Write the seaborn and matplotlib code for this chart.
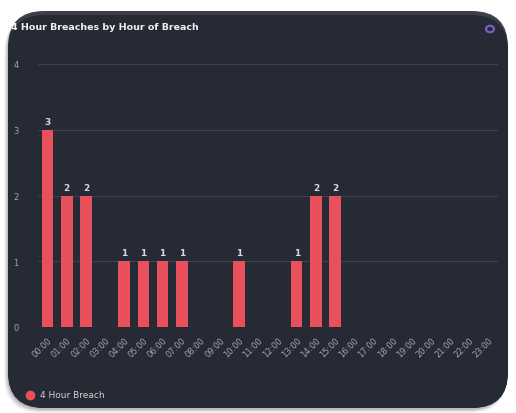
import matplotlib
matplotlib.use("Agg")
import matplotlib.pyplot as plt
import seaborn as sns
import pandas as pd
from matplotlib.patches import FancyBboxPatch, Circle
from matplotlib.lines import Line2D

hours = [f"{h:02d}:00" for h in range(24)]
breaches = [3, 2, 2, 0, 1, 1, 1, 1, 0, 0, 1, 0, 0, 1, 2, 2, 0, 0, 0, 0, 0, 0, 0, 0]
yticks = [0, 1, 2, 3, 4]
title = "4 Hour Breaches by Hour of Breach"
series_name = "4 Hour Breach"

sns.set_theme(style="dark")
plt.rcParams["font.family"] = ["DejaVu Sans"]

W, H = 516, 414
fig = plt.figure(figsize=(W / 100, H / 100), dpi=100)
fig.patch.set_facecolor("white")

panel_bg = "#262a35"
# shadow
for i, a in enumerate([0.04, 0.06, 0.08, 0.10]):
    off = 4 - i
    sh = FancyBboxPatch(((8 - off) / W, (4 - off) / H), (498 + off) / W, 396 / H,
                        boxstyle="round,pad=0,rounding_size=0.07",
                        transform=fig.transFigure, facecolor="black", alpha=a,
                        edgecolor="none", zorder=0, mutation_aspect=W / H)
    fig.add_artist(sh)
top = FancyBboxPatch((8 / W, 5 / H), 500 / W, 397 / H,
                     boxstyle="round,pad=0,rounding_size=0.07",
                     transform=fig.transFigure, facecolor="#3b404c",
                     edgecolor="none", zorder=1, mutation_aspect=W / H)
fig.add_artist(top)
panel = FancyBboxPatch((8 / W, 5 / H), 500 / W, 393 / H,
                       boxstyle="round,pad=0,rounding_size=0.07",
                       transform=fig.transFigure, facecolor=panel_bg,
                       edgecolor="none", zorder=1, mutation_aspect=W / H)
fig.add_artist(panel)

ax = fig.add_axes([38 / W, (H - 328) / H, (498 - 38) / W, (328 - 65) / H])
ax.set_facecolor("none")
ax.set_zorder(2)

df = pd.DataFrame({"hour": hours, "count": breaches})
sns.barplot(data=df, x="hour", y="count", color="#e8505b", width=0.6,
            saturation=1, linewidth=0, ax=ax, zorder=3)

for i, v in enumerate(breaches):
    if v > 0:
        ax.text(i, v + 0.06, str(v), ha="center", va="bottom", color="#d8d8d8",
                fontsize=6.5, fontweight="bold", zorder=4)

ax.set_ylim(0, 4)
ax.set_xlim(-0.5, 23.5)
ax.set_yticks(yticks)
ax.set_yticklabels([str(t) for t in yticks], color="#a0a4ae", fontsize=6)
ax.tick_params(axis="y", length=0, pad=14)
ax.set_xticks(range(len(hours)))
ax.set_xticklabels(hours, rotation=45, ha="right", rotation_mode="anchor",
                   color="#a0a4ae", fontsize=6)
ax.tick_params(axis="x", length=0, pad=6)
ax.grid(axis="y", color="#3c414d", linewidth=0.8)
ax.grid(axis="x", visible=False)
for s in ax.spines.values():
    s.set_visible(False)
ax.axhline(0, color="#4a4f5b", linewidth=0.9, zorder=2)
ax.set_xlabel("")
ax.set_ylabel("")

fig.text(11 / W, (H - 28) / H, title, color="#f0f0f0", fontsize=6.8,
         fontweight="semibold", va="center", ha="left", zorder=3)

# spinner icon
ring = Circle((490 / W, (H - 30) / H), 4 / W, transform=fig.transFigure,
              facecolor="none", edgecolor="#7a5cc8", linewidth=1.6, zorder=3)
fig.add_artist(ring)

# legend
fig.add_artist(Line2D([30 / W], [(H - 396) / H], marker="o", markersize=6,
                      color="#e8505b", linestyle="none", transform=fig.transFigure,
                      zorder=3))
fig.text(40 / W, (H - 396) / H, series_name, color="#d0d0d0", fontsize=6.5,
         va="center", ha="left", zorder=3)

fig.savefig("out.png", dpi=100, facecolor="white")
